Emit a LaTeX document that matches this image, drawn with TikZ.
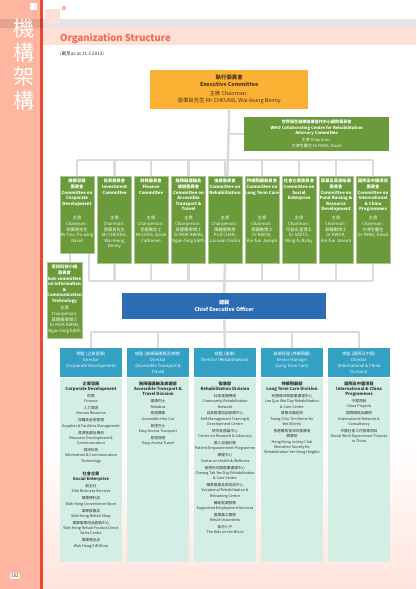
\documentclass[tikz,border=0pt]{standalone}
\usepackage{fontspec}
\setmainfont{Noto Sans CJK TC}
\usetikzlibrary{calc}
\pgfdeclarelayer{back}
\pgfdeclarelayer{bg}
\pgfsetlayers{back,bg,main}
\definecolor{salmon}{HTML}{FFB6A0}
\definecolor{redline}{HTML}{F0462D}
\definecolor{pinkband}{HTML}{FFE0D7}
\definecolor{titlecol}{HTML}{F26A50}
\definecolor{execcol}{HTML}{FBB133}
\definecolor{exectext}{HTML}{4D3319}
\definecolor{grn}{HTML}{6A9A3A}
\definecolor{ceocol}{HTML}{2B6CB4}
\definecolor{hdr}{HTML}{33A0C4}
\definecolor{bodycol}{HTML}{D2EEE5}
\definecolor{lin}{HTML}{DADADA}
\definecolor{bottompink}{HTML}{FFE4DC}
\definecolor{bodytext}{HTML}{333333}
\newcommand\btl[1]{{\bfseries\fontsize{4.2}{5.5}\selectfont #1}}
\begin{document}
\begin{tikzpicture}[x=1pt,y=-1pt,
  ln/.style={draw=lin,line width=2.5pt},
  cbox/.style={fill=grn,draw=grn!55!white,line width=0.4pt,minimum width=34pt,anchor=north,inner sep=0pt},
  ctitle/.style={anchor=north,align=center,text=white,font=\bfseries\fontsize{4.3}{5.6}\selectfont,inner sep=0pt},
  cchair/.style={anchor=north,align=center,text=white,font=\fontsize{4.3}{5.6}\selectfont,inner sep=0pt},
  phdr/.style={fill=hdr,minimum width=62pt,minimum height=29pt,anchor=north,inner sep=0pt},
  pbody/.style={fill=bodycol,minimum width=62pt,minimum height=184pt,anchor=north,inner sep=0pt},
  phtext/.style={anchor=north,align=center,text=white,font=\fontsize{4.2}{6}\selectfont,inner sep=0pt},
  pbtext/.style={anchor=north,align=center,text=bodytext,font=\fontsize{3.7}{5.3}\selectfont,inner sep=0pt},
]
\useasboundingbox (0,0) rectangle (416,589);
\begin{pgfonlayer}{back}
\fill[white] (0,0) rectangle (416,589);
\shade[top color=white,bottom color=bottompink] (43,440) rectangle (416,589);
\fill[salmon] (0,0) rectangle (40,589);
\fill[redline] (40,0) rectangle (43,589);
\fill[black,opacity=0.1] (0,19) rectangle (416,28);
\fill[pinkband] (43,28) rectangle (416,45);
\fill[white] (30,3) rectangle (37,10);
\fill[pinkband] (45,9) rectangle (60,23);
\fill[salmon] (62,6) rectangle (66,10);
\end{pgfonlayer}

\node[anchor=north,align=center,text=white,font=\fontsize{21}{24}\selectfont,inner sep=0pt] (side) at (24,19) {機\\構\\架\\構};
\node[anchor=base west,text=titlecol,font=\bfseries\fontsize{9.5}{11}\selectfont,inner sep=0pt] (title) at (60,41) {Organization Structure};
\node[anchor=base west,text=bodytext,font=\fontsize{4.6}{5}\selectfont,inner sep=0pt] (asat) at (60,55) {(截至as at 31.3.2013)};

% Executive committee
\node[fill=execcol,minimum width=158pt,minimum height=39pt,anchor=north west,inner sep=0pt] (exec) at (150,70) {};
\node[anchor=north,align=center,text=exectext,font=\fontsize{5.4}{7}\selectfont,inner sep=0pt] (exect) at ([yshift=-5pt]exec.north) {{\bfseries 執行委員會}\\{\bfseries Executive Committee}\\[1.5pt]主席 Chairman :\\張偉良先生 Mr CHEUNG, Wai-leung Benny};

% WHO
\node[fill=grn,minimum width=145pt,minimum height=34pt,anchor=north west,inner sep=0pt] (who) at (244,117) {};
\node[anchor=north,align=center,text=white,font=\fontsize{4.1}{5.6}\selectfont,inner sep=0pt] (whot) at ([yshift=-3pt]who.north) {{\bfseries 世界衛生組織復康協作中心顧問委員會}\\{\bfseries WHO Collaborating Centre for Rehabilitation}\\{\bfseries Advisory Committee}\\[1pt]主席 Chairman :\\方津生醫生 Dr FANG, David};

% Committees
\node[cbox,minimum height=77pt] (c1) at (77,176) {};
\node[cbox,minimum height=87pt] (c2) at (114.5,176) {};
\node[cbox,minimum height=87pt] (c3) at (151,176) {};
\node[cbox,minimum height=87pt] (c4) at (188.5,176) {};
\node[cbox,minimum height=87pt] (c5) at (225,176) {};
\node[cbox,minimum height=87pt] (c6) at (262,176) {};
\node[cbox,minimum height=87pt] (c7) at (299,176) {};
\node[cbox,minimum height=87pt] (c8) at (336,176) {};
\node[cbox,minimum height=87pt] (c9) at (373,176) {};

\node[ctitle] (c1t) at ([yshift=-3pt]c1.north) {機構發展\\委員會\\Committee on\\Corporate\\Development};
\node[cchair] (c1c) at ([yshift=-40pt]c1.north) {主席\\Chairman :\\徐寶榮先生\\Mr Tsui, Po-wing\\David};
\node[ctitle] (c2t) at ([yshift=-3pt]c2.north) {投資委員會\\Investment\\Committee};
\node[cchair] (c2c) at ([yshift=-40pt]c2.north) {主席\\Chairman :\\張偉良先生\\Mr CHEUNG,\\Wai-leung\\Benny};
\node[ctitle] (c3t) at ([yshift=-3pt]c3.north) {財務委員會\\Finance\\Committee};
\node[cchair] (c3c) at ([yshift=-40pt]c3.north) {主席\\Chairperson :\\李碧霞女士\\Ms LEGG, Sarah\\Catherine};
\node[ctitle] (c4t) at ([yshift=-3pt]c4.north) {無障礙運輸及\\旅遊委員會\\Committee on\\Accessible\\Transport \&\\Travel};
\node[cchair] (c4c) at ([yshift=-40pt]c4.north) {主席\\Chairperson :\\莫關雁卿博士\\Dr MOK KWAN,\\Ngan-hing Edith};
\node[ctitle] (c5t) at ([yshift=-3pt]c5.north) {復康委員會\\Committee on\\Rehabilitation};
\node[cchair] (c5c) at ([yshift=-40pt]c5.north) {主席\\Chairperson :\\陳麗雲教授\\Prof CHAN,\\Lai-wan Cecilia};
\node[ctitle] (c6t) at ([yshift=-3pt]c6.north) {持續照顧委員會\\Committee on\\Long Term Care};
\node[cchair] (c6c) at ([yshift=-40pt]c6.north) {主席\\Chairman :\\郭鍵勳博士\\Dr KWOK,\\Kin-fun Joseph};
\node[ctitle] (c7t) at ([yshift=-3pt]c7.north) {社會企業委員會\\Committee on\\Social\\Enterprise};
\node[cchair] (c7c) at ([yshift=-40pt]c7.north) {主席\\Chairman :\\司徒永富博士\\Dr SZETO,\\Wing-fu Ricky};
\node[ctitle] (c8t) at ([yshift=-3pt]c8.north) {籌募及資源拓展\\委員會\\Committee on\\Fund Raising \&\\Resource\\Development};
\node[cchair] (c8c) at ([yshift=-40pt]c8.north) {主席\\Chairman :\\郭鍵勳博士\\Dr KWOK,\\Kin-fun Joseph};
\node[ctitle] (c9t) at ([yshift=-3pt]c9.north) {國際及中國項目\\委員會\\Committee on\\International\\\& China\\Programmes};
\node[cchair] (c9c) at ([yshift=-40pt]c9.north) {主席\\Chairman :\\方津生醫生\\Dr FANG, David};

% Sub-committee
\node[cbox,minimum width=35pt,minimum height=76pt] (sub) at (64.5,262) {};
\node[ctitle] (subt) at ([yshift=-3pt]sub.north) {資訊科技小組\\委員會\\Sub-committee\\on Information\\\&\\Communication\\Technology};
\node[cchair] (subc) at ([yshift=-44pt]sub.north) {主席\\Chairperson:\\莫關雁卿博士\\Dr MOK KWAN,\\Ngan-hing Edith};

% CEO
\node[fill=ceocol,minimum width=204pt,minimum height=26pt,anchor=north west,inner sep=0pt] (ceo) at (122,293) {};
\node[align=center,text=white,font=\bfseries\fontsize{5.2}{7}\selectfont,inner sep=0pt] (ceot) at (ceo.center) {總裁\\Chief Executive Officer};

% Panels
\node[phdr] (h1) at (91,348) {};
\node[phdr] (h2) at (158,348) {};
\node[phdr] (h3) at (225,348) {};
\node[phdr] (h4) at (292,348) {};
\node[phdr] (h5) at (359,348) {};
\node[pbody] (b1) at (h1.south) {};
\node[pbody] (b2) at (h2.south) {};
\node[pbody] (b3) at (h3.south) {};
\node[pbody] (b4) at (h4.south) {};
\node[pbody] (b5) at (h5.south) {};

\node[phtext] (h1t) at ([yshift=-3.5pt]h1.north) {總監 (企業發展)\\Director\\(Corporate Development)};
\node[phtext] (h2t) at ([yshift=-3.5pt]h2.north) {總監 (無障礙運輸及旅遊)\\Director\\(Accessible Transport \&\\Travel)};
\node[phtext] (h3t) at ([yshift=-3.5pt]h3.north) {總監 (復康)\\Director (Rehabilitation)};
\node[phtext] (h4t) at ([yshift=-3.5pt]h4.north) {高級經理 (持續照顧)\\Senior Manager\\(Long Term Care)};
\node[phtext] (h5t) at ([yshift=-3.5pt]h5.north) {總監 (國際及中國)\\Director\\(International \& China\\Division)};

\node[pbtext] (b1t) at ([yshift=-4pt]b1.north) {\btl{企業發展}\\\btl{Corporate Development}\\[1.6pt]
財務\\Finance\\[1.6pt]
人力資源\\Human Resource\\[1.6pt]
採購及設施管理\\Supplies \& Facilities Management\\[1.6pt]
資源拓展及傳訊\\Resource Development \&\\Communication\\[1.6pt]
資訊科技\\Information \& Communication\\Technology\\[8pt]
\btl{社會企業}\\\btl{Social Enterprise}\\[1.6pt]
創全社\\Elite Business Services\\[1.6pt]
華康便利店\\Wah Hong Convenience Store\\[1.6pt]
華康復康店\\Wah Hong Rehab Shop\\[1.6pt]
華康復康用品直銷中心\\Wah Hong Rehab Product Direct\\Sales Centre\\[1.6pt]
華康禮品店\\Wah Hong Gift Shop};

\node[pbtext] (b2t) at ([yshift=-4pt]b2.north) {\btl{無障礙運輸及旅遊部}\\\btl{Accessible Transport \&}\\\btl{Travel Division}\\[1.6pt]
復康巴士\\Rehabus\\[1.6pt]
易達轎車\\Accessible Hire Car\\[1.6pt]
易達巴士\\Easy-Access Transport\\[1.6pt]
易達旅遊\\Easy-Access Travel};

\node[pbtext] (b3t) at ([yshift=-4pt]b3.north) {\btl{復康部}\\\btl{Rehabilitation Division}\\[1.6pt]
社區復康網絡\\Community Rehabilitation\\Network\\[1.6pt]
自我管理培訓發展中心\\Self-Management Training \&\\Development Centre\\[1.6pt]
研究及倡議中心\\Centre on Research \& Advocacy\\[1.6pt]
病人自強計劃\\Patient Empowerment Programme\\[1.6pt]
康健中心\\Centre on Health \& Wellness\\[1.6pt]
張德怡日間復康護理中心\\Cheung Tak Yee Day Rehabilitation\\\& Care Centre\\[1.6pt]
職業復康及再培訓中心\\Vocational Rehabilitation \&\\Retraining Centre\\[1.6pt]
輔助就業服務\\Supported Employment Services\\[1.6pt]
復康義工團隊\\Rehab Volunteers\\[1.6pt]
街坊小子\\The Kids on the Block};

\node[pbtext] (b4t) at ([yshift=-4pt]b4.north) {\btl{持續照顧部}\\\btl{Long Term Care Division}\\[1.6pt]
利國偉日間復康護理中心\\Lee Quo Wei Day Rehabilitation\\\& Care Centre\\[1.6pt]
曾肇添護老院\\Tsang Chiu Tim Home for\\the Elderly\\[1.6pt]
香港賽馬會深圳復康會\\頤康院\\Hong Kong Jockey Club\\Shenzhen Society for\\Rehabilitation Yee Hong Heights};

\node[pbtext] (b5t) at ([yshift=-4pt]b5.north) {\btl{國際及中國項目}\\\btl{International \& China}\\\btl{Programmes}\\[1.6pt]
中國項目\\China Projects\\[1.6pt]
國際網絡及顧問\\International Network \&\\Consultancy\\[1.6pt]
中國社會工作督導項目\\Social Work Supervision Projects\\in China};

% page number
\node[fill=white,rounded corners=1pt,text=bodytext,font=\fontsize{4.5}{5}\selectfont,inner sep=1pt] (pg) at (15,576) {102};

% connectors
\coordinate (tl) at (77,160);
\coordinate (tr) at (c9.north |- tl);
\coordinate (bl) at (89,281);
\coordinate (br) at (c9.north |- bl);
\coordinate (pj) at (91,332);
\begin{pgfonlayer}{bg}
\draw[ln] (exec.south) -- (ceo.north);
\draw[ln] (exec.south |- who.west) -- (who.west);
\draw[ln] (tl) -- (tr);
\draw[ln] (bl) -- (br);
\foreach \c in {c1,c2,c3,c4,c5,c6,c7,c8,c9} {\draw[ln] (\c.north |- tl) -- (\c.north);}
\foreach \c in {c2,c3,c4,c5,c6,c7,c8,c9} {\draw[ln] (\c.south) -- (\c.south |- bl);}
\draw[ln] ([xshift=12pt]c1.south) -- (bl);
\draw[ln] ([xshift=-7pt]c1.south) -- ([xshift=-7pt]c1.south |- sub.north);
\draw[ln] (ceo.south) -- (h3.north);
\draw[ln] (h1.north |- pj) -- (h5.north |- pj);
\foreach \h in {h1,h2,h4,h5} {\draw[ln] (\h.north |- pj) -- (\h.north);}
\end{pgfonlayer}
\end{tikzpicture}
\end{document}
